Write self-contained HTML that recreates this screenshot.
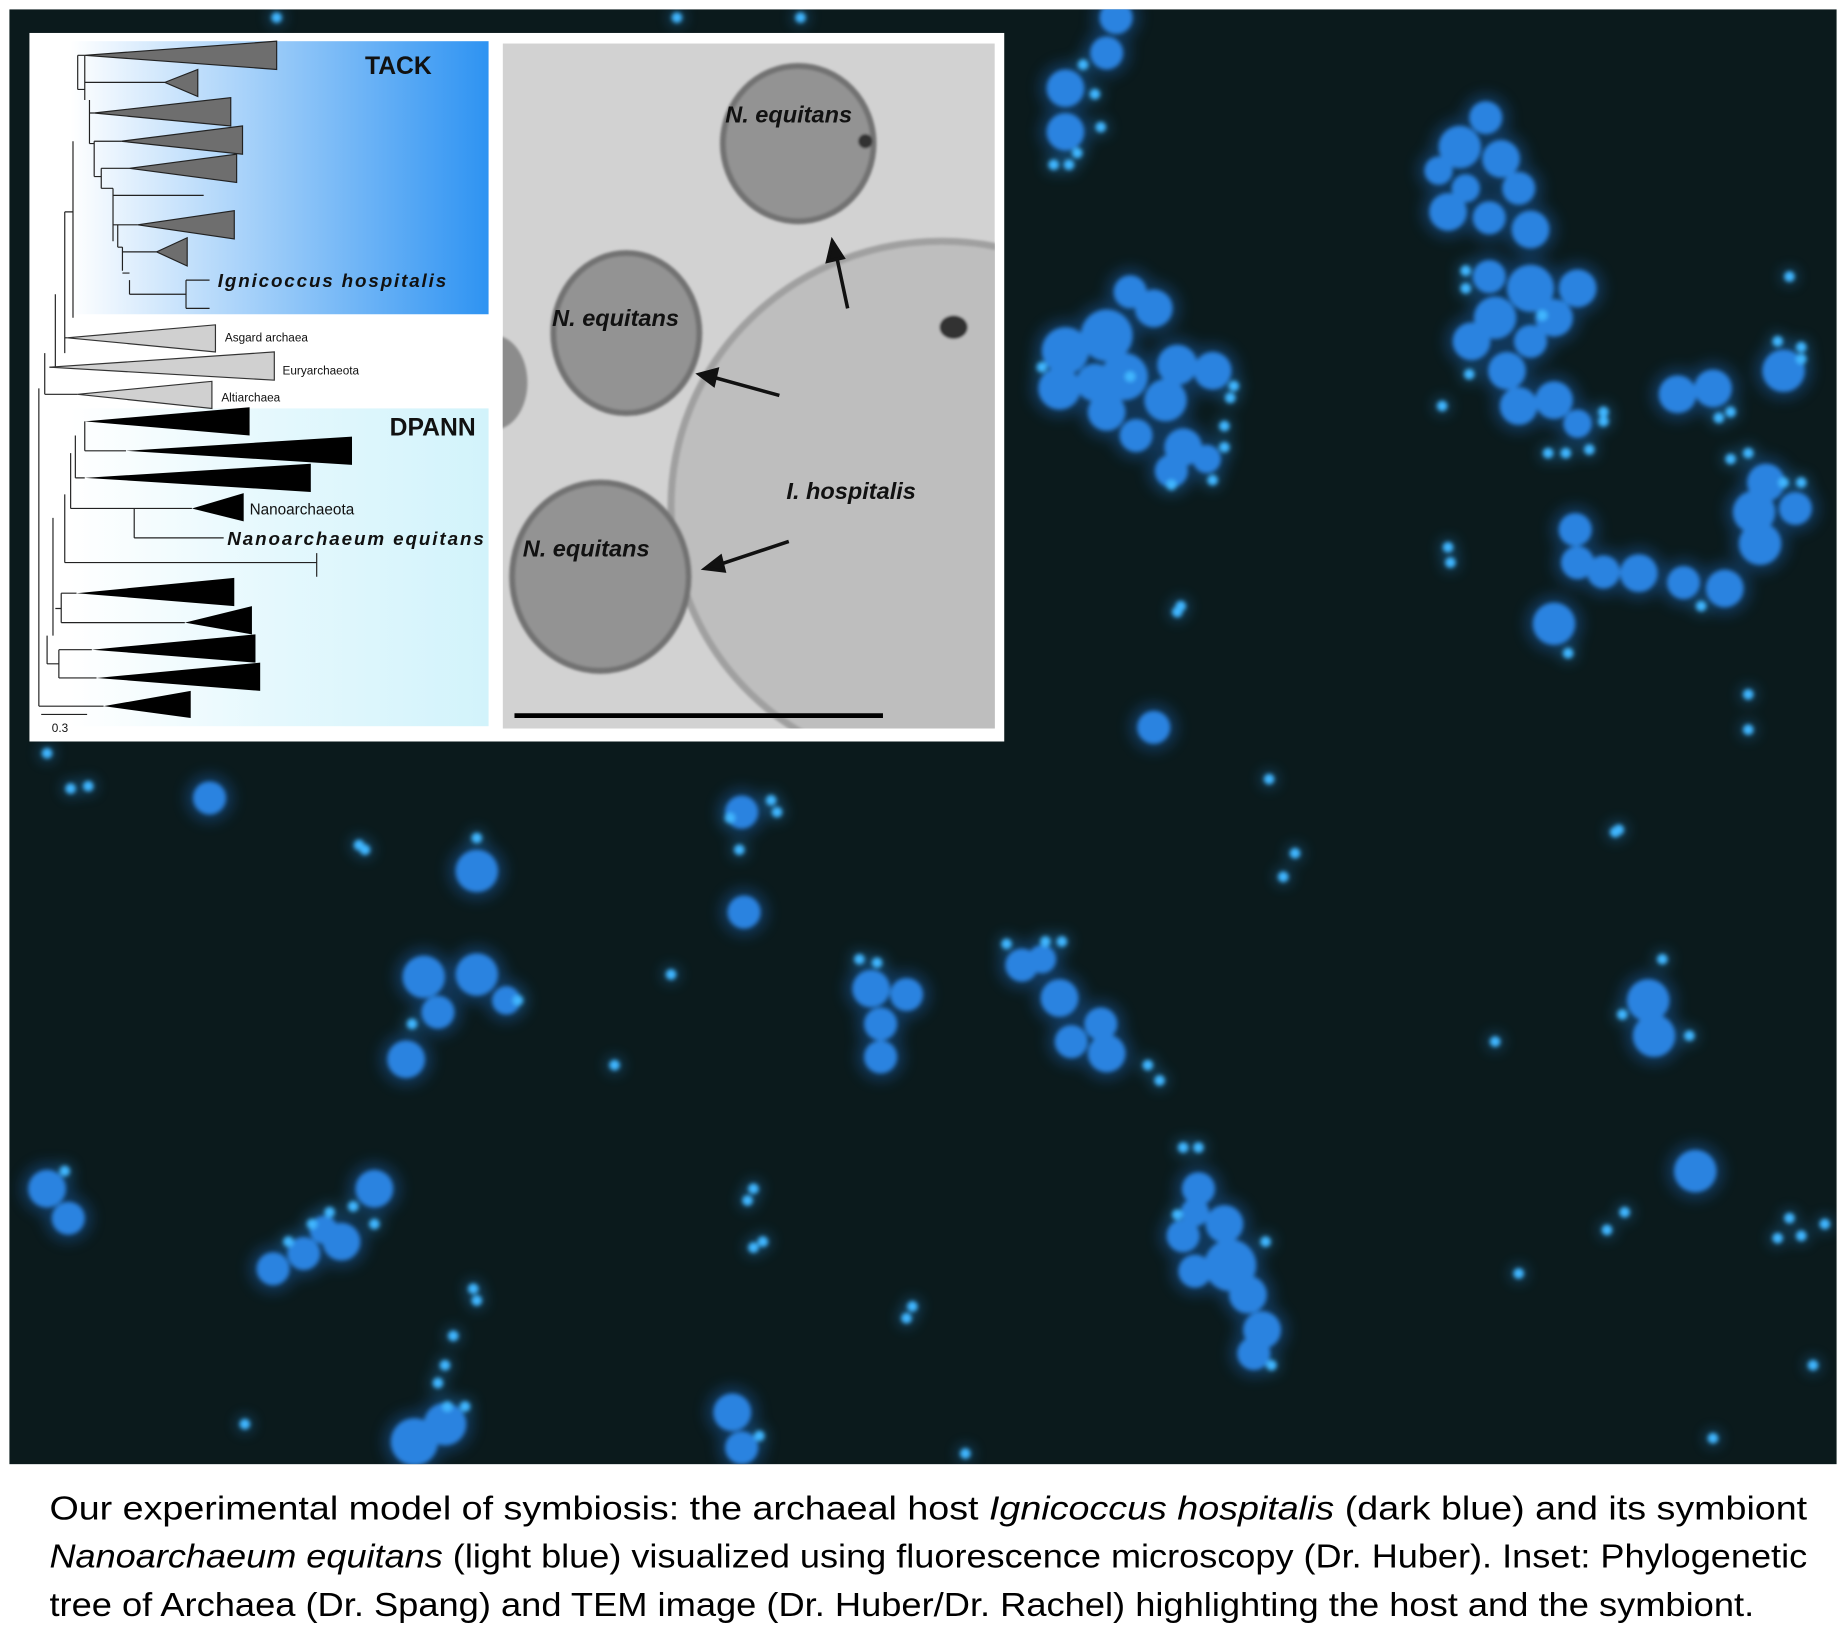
<!DOCTYPE html>
<html><head><meta charset="utf-8"><style>
html,body{margin:0;padding:0;background:#fff;}
svg{display:block;}
</style></head><body>
<svg width="1846" height="1636" viewBox="0 0 1568 1390" preserveAspectRatio="none" xmlns="http://www.w3.org/2000/svg">
<defs>
<filter id="bl" x="-50%" y="-50%" width="200%" height="200%"><feGaussianBlur stdDeviation="1.8"/></filter>
<filter id="gl" x="-100%" y="-100%" width="300%" height="300%"><feGaussianBlur stdDeviation="6"/></filter>
<filter id="soft" x="-10%" y="-10%" width="120%" height="120%"><feGaussianBlur stdDeviation="1.2"/></filter>
<linearGradient id="tack" x1="0" x2="1"><stop offset="0" stop-color="#ffffff"/><stop offset="1" stop-color="#2e93f2"/></linearGradient>
<linearGradient id="dpann" x1="0" x2="1"><stop offset="0" stop-color="#ffffff"/><stop offset="0.5" stop-color="#e4f8fd"/><stop offset="1" stop-color="#d2f3fb"/></linearGradient>
<clipPath id="temclip"><rect x="427" y="37" width="418" height="582"/></clipPath>
<clipPath id="photoclip"><rect x="8" y="8" width="1552" height="1236"/></clipPath>
</defs>
<rect x="0" y="0" width="1568" height="1390" fill="#fff"/>
<rect x="8" y="8" width="1552" height="1236" fill="#0b1a1c"/>
<g clip-path="url(#photoclip)">
<g id="glow" filter="url(#gl)" opacity="0.35"></g>
<g id="blobs" filter="url(#bl)"></g>
</g>

<g>
<rect x="25" y="28" width="828" height="602" fill="#fff"/>
<g>
<rect x="60" y="35" width="355" height="232" fill="url(#tack)"/>
<rect x="60" y="347" width="355" height="270" fill="url(#dpann)"/>
<text x="310" y="63" font-family="Liberation Sans, sans-serif" font-weight="bold" font-size="21" fill="#111">TACK</text>
<text x="331" y="370" font-family="Liberation Sans, sans-serif" font-weight="bold" font-size="21" fill="#111">DPANN</text>
<g stroke="#222" stroke-width="1" fill="none">
<path d="M66,47 H72 M66,47 V76 M66,76 H72 M72,70 H140 M72,70 V85 M72,47 V70 M76,96 H80 M76,85 V96 M76,96 V122 M76,122 H80 M80,120 H103 M80,120 V150 M80,150 H86 M86,143 H110 M86,143 V160 M86,160 H96 M96,166 H173 M96,160 V166 M96,166 V205 M96,191 H100 M100,191 H117 M100,191 V210 M100,210 H104 M104,214 H133 M104,210 V230 M104,232 H110 M110,238 V250 M110,250 H158 M158,238 H178 M158,238 V262 M158,262 H178"/>
<path d="M55,180 H62 M62,120 V270 M55,180 V300 M55,287 H57 M47,250 V312 M47,312 H42 M38,300 V335 M38,335 H66 M33,330 V600 M33,600 H88"/>
<path d="M72,358 V383 M72,383 H107 M64,370 V406 M64,406 H72 M60,385 V432 M60,432 H114 M114,432 H163 M114,432 V457 M114,457 H190 M55,420 V478 M55,478 H269 M269,470 V490 M45,440 V540 M52,504 V529 M52,504 H65 M52,529 H157 M47,517 H52 M50,552 V576 M50,552 H78 M50,576 H82 M40,540 V564 M40,564 H50"/>
<path d="M35,607 H74"/>
</g>
<g fill="#6e6e6e" stroke="#222" stroke-width="1">
<polygon points="72,47 235,35 235,59"/><polygon points="140,70 168,59 168,82"/><polygon points="80,96 196,83 196,107"/>
<polygon points="103,120 206,107 206,131"/><polygon points="110,143 201,131 201,155"/><polygon points="117,191 199,179 199,203"/>
<polygon points="133,214 159,202 159,226"/>
</g>
<g fill="#d0d0d0" stroke="#333" stroke-width="1">
<polygon points="57,287 183,276 183,299"/><polygon points="42,312 233,299 233,323"/><polygon points="66,335 180,324 180,347"/>
</g>
<g fill="#000">
<polygon points="72,358 212,346 212,370"/><polygon points="107,383 299,371 299,395"/><polygon points="72,406 264,394 264,418"/>
<polygon points="163,432 207,419 207,443"/><polygon points="65,504 199,491 199,515"/><polygon points="157,529 214,515 214,539"/>
<polygon points="78,552 217,539 217,563"/><polygon points="82,576 221,563 221,587"/><polygon points="88,600 162,587 162,610"/>
</g>
<g font-family="Liberation Sans, sans-serif" fill="#111">
<text x="185" y="244" font-size="16" font-style="italic" font-weight="bold" textLength="194">Ignicoccus hospitalis</text>
<text x="191" y="290" font-size="10">Asgard archaea</text>
<text x="240" y="318" font-size="10">Euryarchaeota</text>
<text x="188" y="341" font-size="10">Altiarchaea</text>
<text x="212" y="437" font-size="13">Nanoarchaeota</text>
<text x="193" y="463" font-size="16" font-style="italic" font-weight="bold" textLength="218">Nanoarchaeum equitans</text>
<text x="44" y="622" font-size="10">0.3</text>
</g>
</g>
<g clip-path="url(#temclip)">
<rect x="427" y="37" width="418" height="582" fill="#d2d2d2"/>
<g filter="url(#soft)">
<ellipse cx="800" cy="430" rx="230" ry="225" fill="#bebebe" stroke="#a0a0a0" stroke-width="6"/>
<ellipse cx="420" cy="325" rx="28" ry="40" fill="#8c8c8c"/>
<ellipse cx="678" cy="122" rx="64" ry="66" fill="#939393" stroke="#727272" stroke-width="5"/>
<ellipse cx="532" cy="283" rx="62" ry="68" fill="#939393" stroke="#727272" stroke-width="5"/>
<ellipse cx="510" cy="490" rx="75" ry="80" fill="#939393" stroke="#727272" stroke-width="5"/>
<ellipse cx="810" cy="278" rx="12" ry="10" fill="#333"/>
<circle cx="735" cy="120" r="6" fill="#333"/>
</g>
<g stroke="#111" stroke-width="3" fill="#111">
<line x1="720" y1="262" x2="710" y2="215"/><polygon points="707,205 703,222 716,219"/>
<line x1="662" y1="336" x2="604" y2="320"/><polygon points="594,318 609,314 606,327"/>
<line x1="670" y1="460" x2="610" y2="480"/><polygon points="599,483 612,473 615,485"/>
</g>
<line x1="437" y1="608" x2="750" y2="608" stroke="#000" stroke-width="4"/>
<g font-family="Liberation Sans, sans-serif" font-style="italic" font-weight="bold" font-size="20" fill="#111">
<text x="616" y="104">N. equitans</text>
<text x="469" y="277">N. equitans</text>
<text x="444" y="473">N. equitans</text>
<text x="668" y="424">I. hospitalis</text>
</g>
</g>
</g>

<g font-family="'Liberation Sans Narrow', 'Liberation Sans', sans-serif" font-size="28" fill="#000">
<text x="42" y="1291" textLength="1493" lengthAdjust="spacingAndGlyphs">Our experimental model of symbiosis: the archaeal host <tspan font-style="italic">Ignicoccus hospitalis</tspan> (dark blue) and its symbiont</text>
<text x="42" y="1332" textLength="1493" lengthAdjust="spacingAndGlyphs"><tspan font-style="italic">Nanoarchaeum equitans</tspan> (light blue) visualized using fluorescence microscopy (Dr. Huber). Inset: Phylogenetic</text>
<text x="42" y="1373" textLength="1448" lengthAdjust="spacingAndGlyphs">tree of Archaea (Dr. Spang) and TEM image (Dr. Huber/Dr. Rachel) highlighting the host and the symbiont.</text>
</g>
</svg>
<script>
const big=[[948,15,14],[940,45,14],[905,75,16],[905,112,16],
[960,248,14],[980,262,16],[940,285,22],[905,298,20],[955,320,20],[1000,310,17],[990,340,18],[930,325,16],[900,330,18],[1030,315,16],[940,350,16],[965,370,14],[1005,380,16],[995,400,14],[1025,390,12],
[1262,100,14],[1240,125,18],[1275,135,16],[1222,145,12],[1245,160,12],[1290,160,14],[1230,180,16],[1265,185,14],[1300,195,16],[1265,235,14],[1300,245,20],[1340,245,16],[1270,270,18],[1320,270,16],[1250,290,16],[1300,290,14],[1280,315,16],[1290,345,16],[1320,340,16],[1340,360,12],
[1425,335,16],[1455,330,16],[1515,315,18],
[1500,410,16],[1490,435,18],[1525,432,14],[1495,462,18],[1340,478,14],[1338,450,14],[1362,486,14],[1392,487,16],[1430,495,14],[1465,500,16],[1320,530,18],
[980,618,14],[178,678,14],
[405,740,18],[360,830,18],[405,828,18],[430,850,12],[372,860,14],[345,900,16],
[630,690,14],[632,775,14],
[740,840,16],[770,845,14],[748,870,14],[748,898,14],
[868,820,14],[885,815,12],[900,848,16],[935,870,14],[910,885,14],[940,895,16],
[1400,850,18],[1405,880,18],[1440,995,18],
[1018,1010,14],[1015,1030,12],[1040,1040,16],[1005,1050,14],[1045,1075,22],[1015,1080,14],[1060,1100,16],[1072,1130,16],[1065,1150,14],
[40,1010,16],[58,1035,14],
[232,1078,14],[258,1065,14],[290,1055,16],[318,1010,16],[275,1045,12],
[378,1210,18],[352,1225,20],[622,1200,16],[630,1230,14]];
const small=[[915,130],[935,108],[930,80],[920,55],[895,140],[908,140],
[885,312],[960,320],[1048,328],[1045,338],[1040,362],[1040,380],[995,412],[1030,408],
[1245,230],[1245,245],[1310,268],[1225,345],[1248,318],[1362,350],[1362,358],[1350,382],[1315,385],[1330,385],[1520,235],
[1510,290],[1530,295],[1530,305],[1470,350],[1460,355],
[1470,390],[1485,385],[1515,410],[1530,410],[1445,515],[1332,555],[1230,465],[1232,478],[1003,515],[1000,520],[1485,590],[1372,707],[1078,662],
[405,712],[350,870],[440,850],[570,828],[522,905],[305,718],[310,722],
[655,680],[620,695],[628,722],[660,690],[730,815],[745,818],
[855,802],[888,800],[902,800],[975,905],[985,918],
[1412,815],[1378,862],[1435,880],[1270,885],
[1520,1035],[1530,1050],[1510,1052],[1550,1040],[1365,1045],[1380,1030],[1290,1082],[1540,1160],[1455,1222],
[1005,975],[1018,975],[1000,1032],[1075,1055],[1080,1160],[55,995],
[265,1040],[280,1030],[300,1025],[318,1040],[245,1055],
[402,1095],[405,1105],[385,1135],[378,1160],[372,1175],[380,1195],[395,1195],[645,1220],[640,1010],[635,1020],[640,1060],[648,1055],[775,1110],[770,1120],[1100,725],[1090,745],[1375,705],[208,1210],[820,1235],[40,640],[60,670],[75,668],[575,15],[680,15],[235,15],[1485,620]];
const NS='http://www.w3.org/2000/svg';
const gb=document.getElementById('blobs'),gg=document.getElementById('glow');
function circ(g,x,y,r,fill){const c=document.createElementNS(NS,'circle');c.setAttribute('cx',x);c.setAttribute('cy',y);c.setAttribute('r',r);c.setAttribute('fill',fill);g.appendChild(c);return c;}
big.forEach(b=>{circ(gg,b[0],b[1],b[2]+6,'#1f6fd0');
const c=circ(gb,b[0],b[1],b[2],'#2a83e0');

});
small.forEach(s=>{circ(gg,s[0],s[1],7,'#2aa0ff');
const c=circ(gb,s[0],s[1],4.5,'#3fb6ff');

});
</script>
</body></html>
